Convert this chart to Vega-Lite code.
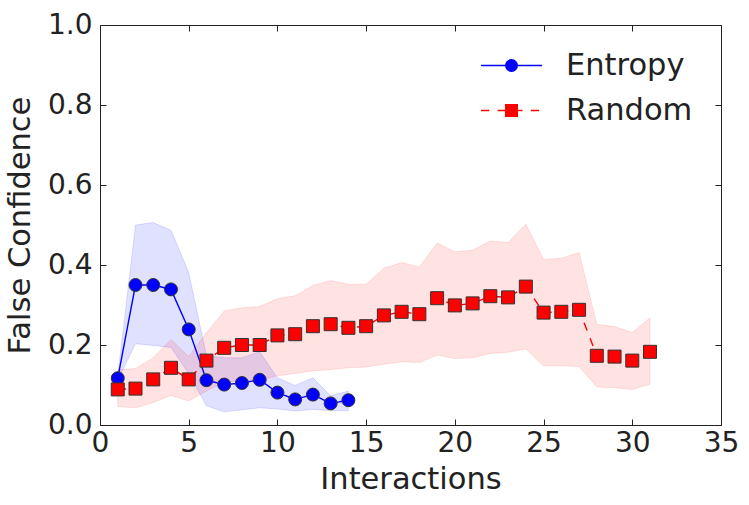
{
  "$schema": "https://vega.github.io/schema/vega-lite/v6.json",
  "width": 621,
  "height": 400,
  "autosize": {"type": "none"},
  "padding": {"left": 100, "top": 25, "right": 28, "bottom": 80},
  "background": "white",
  "config": {
    "font": "DejaVu Sans",
    "view": {"stroke": "#222", "strokeWidth": 1},
    "axis": {
      "labelFont": "DejaVu Sans", "titleFont": "DejaVu Sans",
      "labelFontSize": 28, "titleFontSize": 30.5,
      "labelColor": "#222", "titleColor": "#222",
      "titleFontWeight": "normal", "grid": false, "domain": false,
      "tickColor": "#222", "tickSize": -6, "tickWidth": 1
    }
  },
  "data": {"values": [
    {"series": "Entropy", "x": 1, "y": 0.117, "lo": 0.112, "hi": 0.122},
    {"series": "Entropy", "x": 2, "y": 0.350, "lo": 0.203, "hi": 0.500},
    {"series": "Entropy", "x": 3, "y": 0.350, "lo": 0.199, "hi": 0.506},
    {"series": "Entropy", "x": 4, "y": 0.339, "lo": 0.194, "hi": 0.487},
    {"series": "Entropy", "x": 5, "y": 0.239, "lo": 0.128, "hi": 0.381},
    {"series": "Entropy", "x": 6, "y": 0.112, "lo": 0.048, "hi": 0.173},
    {"series": "Entropy", "x": 7, "y": 0.101, "lo": 0.033, "hi": 0.168},
    {"series": "Entropy", "x": 8, "y": 0.105, "lo": 0.038, "hi": 0.168},
    {"series": "Entropy", "x": 9, "y": 0.113, "lo": 0.043, "hi": 0.183},
    {"series": "Entropy", "x": 10, "y": 0.081, "lo": 0.040, "hi": 0.118},
    {"series": "Entropy", "x": 11, "y": 0.064, "lo": 0.035, "hi": 0.099},
    {"series": "Entropy", "x": 12, "y": 0.076, "lo": 0.039, "hi": 0.118},
    {"series": "Entropy", "x": 13, "y": 0.054, "lo": 0.036, "hi": 0.073},
    {"series": "Entropy", "x": 14, "y": 0.062, "lo": 0.036, "hi": 0.085},
    {"series": "Random", "x": 1, "y": 0.089, "lo": 0.046, "hi": 0.138},
    {"series": "Random", "x": 2, "y": 0.091, "lo": 0.043, "hi": 0.141},
    {"series": "Random", "x": 3, "y": 0.114, "lo": 0.056, "hi": 0.168},
    {"series": "Random", "x": 4, "y": 0.143, "lo": 0.074, "hi": 0.214},
    {"series": "Random", "x": 5, "y": 0.114, "lo": 0.060, "hi": 0.171},
    {"series": "Random", "x": 6, "y": 0.161, "lo": 0.085, "hi": 0.231},
    {"series": "Random", "x": 7, "y": 0.193, "lo": 0.108, "hi": 0.285},
    {"series": "Random", "x": 8, "y": 0.200, "lo": 0.110, "hi": 0.293},
    {"series": "Random", "x": 9, "y": 0.200, "lo": 0.112, "hi": 0.296},
    {"series": "Random", "x": 10, "y": 0.224, "lo": 0.123, "hi": 0.316},
    {"series": "Random", "x": 11, "y": 0.227, "lo": 0.129, "hi": 0.323},
    {"series": "Random", "x": 12, "y": 0.247, "lo": 0.135, "hi": 0.349},
    {"series": "Random", "x": 13, "y": 0.252, "lo": 0.139, "hi": 0.361},
    {"series": "Random", "x": 14, "y": 0.243, "lo": 0.143, "hi": 0.352},
    {"series": "Random", "x": 15, "y": 0.247, "lo": 0.145, "hi": 0.352},
    {"series": "Random", "x": 16, "y": 0.274, "lo": 0.152, "hi": 0.392},
    {"series": "Random", "x": 17, "y": 0.283, "lo": 0.158, "hi": 0.406},
    {"series": "Random", "x": 18, "y": 0.277, "lo": 0.156, "hi": 0.395},
    {"series": "Random", "x": 19, "y": 0.317, "lo": 0.175, "hi": 0.455},
    {"series": "Random", "x": 20, "y": 0.299, "lo": 0.166, "hi": 0.433},
    {"series": "Random", "x": 21, "y": 0.304, "lo": 0.168, "hi": 0.437},
    {"series": "Random", "x": 22, "y": 0.322, "lo": 0.179, "hi": 0.460},
    {"series": "Random", "x": 23, "y": 0.319, "lo": 0.182, "hi": 0.456},
    {"series": "Random", "x": 24, "y": 0.346, "lo": 0.190, "hi": 0.502},
    {"series": "Random", "x": 25, "y": 0.281, "lo": 0.148, "hi": 0.414},
    {"series": "Random", "x": 26, "y": 0.283, "lo": 0.148, "hi": 0.417},
    {"series": "Random", "x": 27, "y": 0.288, "lo": 0.146, "hi": 0.431},
    {"series": "Random", "x": 28, "y": 0.173, "lo": 0.095, "hi": 0.252},
    {"series": "Random", "x": 29, "y": 0.171, "lo": 0.093, "hi": 0.246},
    {"series": "Random", "x": 30, "y": 0.161, "lo": 0.089, "hi": 0.231},
    {"series": "Random", "x": 31, "y": 0.183, "lo": 0.102, "hi": 0.268}
  ]},
  "resolve": {"axis": {"x": "independent", "y": "independent"}},
  "layer": [
    {
      "transform": [{"filter": "datum.series === 'Entropy'"}],
      "mark": {"type": "area", "fill": "#0000ff", "fillOpacity": 0.12, "stroke": "#0000ff", "strokeOpacity": 0.12, "strokeWidth": 1},
      "encoding": {
        "x": {"field": "x", "type": "quantitative", "scale": {"domain": [0, 35], "nice": false},
              "axis": {"orient": "bottom", "values": [0, 5, 10, 15, 20, 25, 30, 35], "labelFlush": false, "labelPadding": 10, "title": "Interactions", "titlePadding": 7}},
        "y": {"field": "lo", "type": "quantitative", "scale": {"domain": [0, 1], "nice": false},
              "axis": {"orient": "left", "values": [0, 0.2, 0.4, 0.6, 0.8, 1.0], "format": ".1f", "labelPadding": 14, "title": "False Confidence", "titlePadding": 12}},
        "y2": {"field": "hi"}
      }
    },
    {
      "transform": [{"filter": "datum.series === 'Random'"}],
      "mark": {"type": "area", "fill": "#ff0000", "fillOpacity": 0.11, "stroke": "#ff0000", "strokeOpacity": 0.11, "strokeWidth": 1},
      "encoding": {
        "x": {"field": "x", "type": "quantitative",
              "axis": {"orient": "top", "values": [0, 5, 10, 15, 20, 25, 30, 35], "labels": false, "title": null}},
        "y": {"field": "lo", "type": "quantitative",
              "axis": {"orient": "right", "values": [0, 0.2, 0.4, 0.6, 0.8, 1.0], "labels": false, "title": null}},
        "y2": {"field": "hi"}
      }
    },
    {
      "transform": [{"filter": "datum.series === 'Entropy'"}],
      "mark": {"type": "line", "strokeWidth": 1.4},
      "encoding": {
        "x": {"field": "x", "type": "quantitative", "axis": null},
        "y": {"field": "y", "type": "quantitative", "axis": null},
        "stroke": {"field": "series", "type": "nominal", "scale": {"domain": ["Entropy", "Random"], "range": ["#0000ff", "#ff0000"]},
                   "legend": {"orient": "none", "legendX": 380, "legendY": 18, "title": null, "symbolType": "stroke", "symbolSize": 3721, "symbolStrokeWidth": 1.4, "labelFontSize": 30.5, "labelFont": "DejaVu Sans", "labelColor": "#222", "labelOffset": 23, "clipHeight": 45, "rowPadding": 0, "padding": 0, "symbolOffset": 0, "labelLimit": 300}},
        "strokeDash": {"field": "series", "type": "nominal", "scale": {"domain": ["Entropy", "Random"], "range": [[1, 0], [8.3, 8.3]]},
                   "legend": {"orient": "none", "legendX": 380, "legendY": 18, "title": null, "symbolType": "stroke", "symbolSize": 3721, "symbolStrokeWidth": 1.4, "labelFontSize": 30.5, "labelFont": "DejaVu Sans", "labelColor": "#222", "labelOffset": 23, "clipHeight": 45, "rowPadding": 0, "padding": 0, "symbolOffset": 0, "labelLimit": 300}}
      }
    },
    {
      "transform": [{"filter": "datum.series === 'Entropy'"}],
      "mark": {"type": "point", "filled": true, "size": 169, "stroke": "#333", "strokeWidth": 1, "opacity": 1},
      "encoding": {
        "x": {"field": "x", "type": "quantitative", "axis": null},
        "y": {"field": "y", "type": "quantitative", "axis": null},
        "fill": {"field": "series", "type": "nominal", "scale": {"range": ["#0000ff", "#ff0000"]},
                 "legend": {"orient": "none", "legendX": 380, "legendY": 18, "title": null, "symbolSize": 169, "symbolStrokeColor": "#333", "symbolStrokeWidth": 1, "symbolOffset": 17.5, "labelFontSize": 28, "labelFont": "DejaVu Sans", "labelExpr": "''", "labelOffset": 24, "clipHeight": 45, "rowPadding": 0, "padding": 0, "zindex": 1}},
        "shape": {"field": "series", "type": "nominal", "scale": {"range": ["circle", "square"]},
                 "legend": {"orient": "none", "legendX": 380, "legendY": 18, "title": null, "symbolSize": 169, "symbolStrokeColor": "#333", "symbolStrokeWidth": 1, "symbolOffset": 17.5, "labelFontSize": 28, "labelFont": "DejaVu Sans", "labelExpr": "''", "labelOffset": 24, "clipHeight": 45, "rowPadding": 0, "padding": 0, "zindex": 1}}
      }
    },
    {
      "transform": [{"filter": "datum.series === 'Random'"}],
      "mark": {"type": "line", "strokeWidth": 1.4},
      "encoding": {
        "x": {"field": "x", "type": "quantitative", "axis": null},
        "y": {"field": "y", "type": "quantitative", "axis": null},
        "stroke": {"field": "series", "type": "nominal"},
        "strokeDash": {"field": "series", "type": "nominal"}
      }
    },
    {
      "transform": [{"filter": "datum.series === 'Random'"}],
      "mark": {"type": "point", "filled": true, "size": 169, "stroke": "#333", "strokeWidth": 1, "opacity": 1},
      "encoding": {
        "x": {"field": "x", "type": "quantitative", "axis": null},
        "y": {"field": "y", "type": "quantitative", "axis": null},
        "fill": {"field": "series", "type": "nominal"},
        "shape": {"field": "series", "type": "nominal"}
      }
    }
  ]
}
